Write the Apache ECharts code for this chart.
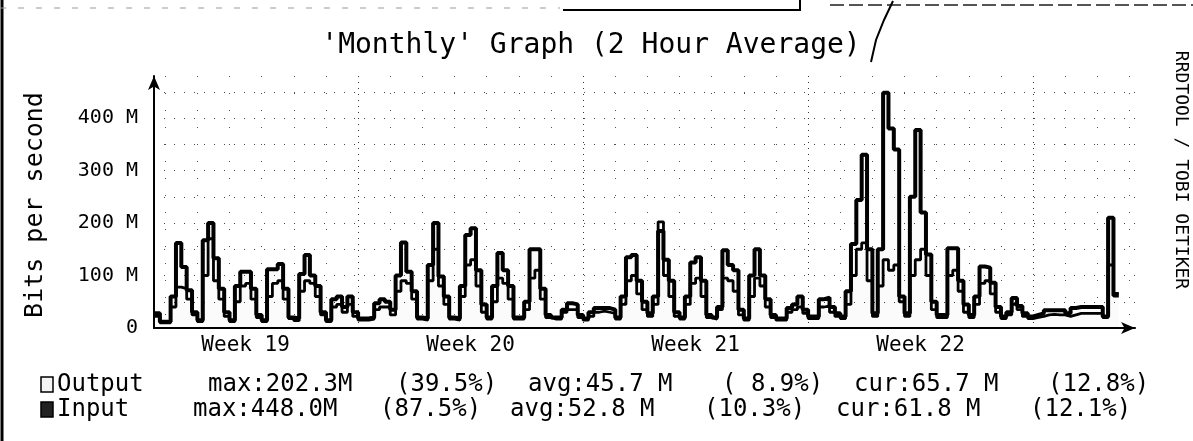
<!DOCTYPE html>
<html lang="en">
<head>
    <meta charset="UTF-8">
    <title>Monthly Graph (2 Hour Average)</title>
    <script src="https://cdn.jsdelivr.net/npm/echarts@6/dist/echarts.min.js"></script>
    <style>
        html, body { margin: 0; padding: 0; background: #fff; }
        #main { width: 1193px; height: 441px; }
    </style>
</head>
<body>
<div id="main"></div>
<script>
    // samples, one every 4 hours, first one = day 0 16:00
    // (x in days counted from the start of week 19)
    var START = 16 / 24
    var STEP = 4 / 24

    // Input, Mbit/s (one row per day)
    var inputM = [
        28, 12,
        12, 60, 162, 116, 72, 30,
        15, 167, 200, 133, 75, 30,
        15, 80, 107, 107, 75, 25,
        15, 112, 112, 122, 75, 20,
        18, 103, 139, 100, 80, 30,
        15, 55, 60, 40, 60, 30,
        18, 18, 20, 47, 55, 50,
        35, 100, 163, 107, 70, 20,
        18, 120, 200, 98, 60, 20,
        18, 80, 177, 190, 110, 45,
        20, 80, 143, 110, 80, 20,
        20, 50, 150, 150, 75, 25,
        20, 20, 35, 47, 45, 25,
        18, 30, 38, 38, 38, 35,
        20, 60, 135, 139, 90, 50,
        28, 60, 185, 130, 90, 30,
        20, 60, 125, 135, 90, 25,
        20, 40, 148, 120, 110, 35,
        18, 100, 150, 100, 55, 25,
        18, 18, 38, 45, 60, 35,
        22, 22, 55, 58, 40, 28,
        22, 70, 160, 244, 330, 150,
        28, 150, 448, 380, 340, 60,
        28, 250, 377, 220, 140, 50,
        25, 25, 152, 152, 90, 45,
        25, 60, 117, 115, 86, 40,
        22, 30, 57, 42, 28, 22,
        25, 28, 34, 34, 34, 34,
        28, 38, 40, 40, 40, 40,
        40, 22, 210, 62
    ]

    // Output, Mbit/s
    var outputM = [
        22, 10,
        10, 40, 78, 75, 55, 25,
        12, 100, 170, 90, 55, 22,
        12, 50, 80, 85, 55, 20,
        12, 60, 85, 90, 55, 18,
        14, 70, 90, 85, 60, 25,
        12, 40, 45, 30, 45, 22,
        15, 15, 17, 35, 40, 40,
        25, 70, 90, 85, 55, 17,
        15, 90, 150, 80, 45, 17,
        15, 60, 120, 130, 80, 30,
        17, 50, 95, 85, 55, 17,
        17, 35, 95, 110, 55, 20,
        17, 17, 30, 35, 35, 20,
        15, 22, 30, 32, 30, 28,
        17, 45, 90, 100, 65, 35,
        22, 45, 202.3, 100, 60, 22,
        17, 45, 85, 95, 60, 20,
        17, 35, 95, 90, 70, 25,
        15, 60, 95, 80, 40, 20,
        15, 15, 30, 35, 40, 28,
        18, 18, 40, 42, 30, 22,
        18, 45, 100, 150, 162, 90,
        22, 80, 130, 110, 120, 50,
        22, 100, 130, 150, 100, 35,
        20, 20, 100, 110, 70, 30,
        20, 45, 85, 90, 65, 30,
        18, 25, 45, 35, 22, 18,
        20, 22, 25, 26, 25, 25,
        22, 25, 28, 28, 28, 28,
        28, 20, 120, 66
    ]

    var weekLines = [7, 14, 21, 28]
    var dayLines = [1, 2, 3, 4, 5, 6, 8, 9, 10, 11, 12, 13, 15, 16, 17, 18, 19, 20, 22, 23, 24, 25, 26, 27, 29, 30, 31]
    var weekMid = [3.5, 10.5, 17.5, 24.5]
    var weekLabels = ['Week 19', 'Week 20', 'Week 21', 'Week 22']
    var yLabels = [0, 100, 200, 300, 400]

    var outputLegend = ['Output', 'max:202.3M', '(39.5%)', 'avg:45.7 M', '( 8.9%)', 'cur:65.7 M', '(12.8%)']
    var inputLegend = ['Input', 'max:448.0M', '(87.5%)', 'avg:52.8 M', '(10.3%)', 'cur:61.8 M', '(12.1%)']

    var MONO = '"DejaVu Sans Mono", "Liberation Mono", monospace'

    function toPoints(arr) {
        var pts = []
        for (var i = 0; i < arr.length; i++) {
            pts.push([START + i * STEP, arr[i]])
        }
        // close the last 4h step (the "cur" value)
        pts.push([START + arr.length * STEP, arr[arr.length - 1]])
        return pts
    }

    var mCharts = echarts.init(document.getElementById('main'))

    // legend text, one graphic per field
    var col1 = [57, 208, 396, 528, 722, 854, 1048]
    var col2 = [57, 193, 380, 510, 704, 836, 1030]
    var graphics = []
    outputLegend.forEach(function (t, i) {
        graphics.push({type: 'text', x: col1[i], y: 385,
            style: {text: t, font: '24px ' + MONO, fill: '#000', textVerticalAlign: 'middle'}})
    })
    inputLegend.forEach(function (t, i) {
        graphics.push({type: 'text', x: col2[i], y: 410,
            style: {text: t, font: '24px ' + MONO, fill: '#000', textVerticalAlign: 'middle'}})
    })
    // legend boxes
    graphics.push({type: 'rect', shape: {x: 41, y: 377, width: 12, height: 15},
        style: {fill: '#f4f4f4', stroke: '#000', lineWidth: 1.5}})
    graphics.push({type: 'rect', shape: {x: 41, y: 402, width: 12, height: 15},
        style: {fill: '#222', stroke: '#000', lineWidth: 1.5}})
    // title
    graphics.push({type: 'text', x: 591, y: 46,
        style: {text: "'Monthly' Graph (2 Hour Average)", font: '28px ' + MONO, fill: '#000',
            textAlign: 'center', textVerticalAlign: 'middle'}})
    // y axis name
    graphics.push({type: 'text', x: 35, y: 205, rotation: Math.PI / 2,
        style: {text: 'Bits per second', font: '25px ' + MONO, fill: '#000',
            textAlign: 'center', textVerticalAlign: 'middle'}})
    // side credit
    graphics.push({type: 'text', x: 1181, y: 170, rotation: -Math.PI / 2,
        style: {text: 'RRDTOOL / TOBI OETIKER', font: '18px ' + MONO, fill: '#000',
            textAlign: 'center', textVerticalAlign: 'middle'}})
    // scan edges / pen marks
    graphics.push({type: 'line', shape: {x1: 2, y1: 0, x2: 2, y2: 441}, style: {stroke: '#000', lineWidth: 3}})
    graphics.push({type: 'line', shape: {x1: 0, y1: 8, x2: 560, y2: 8}, style: {stroke: '#999', lineWidth: 1, lineDash: [6, 12]}})
    graphics.push({type: 'line', shape: {x1: 563, y1: 10, x2: 800, y2: 10}, style: {stroke: '#000', lineWidth: 2}})
    graphics.push({type: 'line', shape: {x1: 800, y1: 0, x2: 800, y2: 11}, style: {stroke: '#000', lineWidth: 2}})
    graphics.push({type: 'line', shape: {x1: 830, y1: 5, x2: 1193, y2: 5}, style: {stroke: '#555', lineWidth: 2, lineDash: [14, 5]}})
    graphics.push({type: 'polyline', shape: {points: [[893, 1], [884, 20], [876, 40], [871, 62]]},
        style: {stroke: '#000', lineWidth: 2, fill: null}})

    var option = {
        backgroundColor: '#fff',
        animation: false,
        grid: {left: 154, right: 58, top: 76, bottom: 113, containLabel: false},
        xAxis: [{
            type: 'value',
            min: 0.65,
            max: 31.17,
            axisLine: {show: true, lineStyle: {color: '#000', width: 2},
                symbol: ['none', 'arrow'], symbolSize: [9, 14]},
            axisTick: {show: false, customValues: weekLines},
            splitLine: {show: true, lineStyle: {color: '#333', width: 1, type: [1, 5]}},
            axisLabel: {
                customValues: weekMid,
                formatter: function (v) {
                    return weekLabels[weekMid.indexOf(v)] || ''
                },
                fontFamily: MONO, fontSize: 21, color: '#000', margin: 7
            }
        }, {
            type: 'value',
            min: 0.65,
            max: 31.17,
            position: 'top',
            axisLine: {show: false},
            axisTick: {show: false, customValues: dayLines},
            axisLabel: {show: false},
            splitLine: {show: true, lineStyle: {color: '#555', width: 1, type: [1, 16]}}
        }],
        yAxis: {
            type: 'value',
            min: 0,
            max: 480,
            interval: 50,
            axisLine: {show: true, lineStyle: {color: '#000', width: 2},
                symbol: ['none', 'arrow'], symbolSize: [9, 14]},
            axisTick: {show: false},
            axisLabel: {
                customValues: yLabels,
                formatter: function (v) {
                    return v === 0 ? '0' : v + ' M'
                },
                fontFamily: MONO, fontSize: 20, color: '#000', margin: 16
            },
            splitLine: {show: true, showMaxLine: false,
                lineStyle: {color: '#444', width: 1, type: [1, 9]}}
        },
        series: [
            {
                name: 'Input',
                type: 'line',
                step: 'end',
                data: toPoints(inputM),
                showSymbol: false,
                symbol: 'none',
                lineStyle: {color: '#000', width: 4},
                areaStyle: {color: 'rgba(0,0,0,0.025)'},
                z: 2
            },
            {
                name: 'Output',
                type: 'line',
                step: 'end',
                data: toPoints(outputM),
                showSymbol: false,
                symbol: 'none',
                lineStyle: {color: '#000', width: 2.8},
                z: 3
            }
        ],
        graphic: graphics
    }
    mCharts.setOption(option)

    window.onresize = function () {
        mCharts.resize()
    }
</script>
</body>
</html>
